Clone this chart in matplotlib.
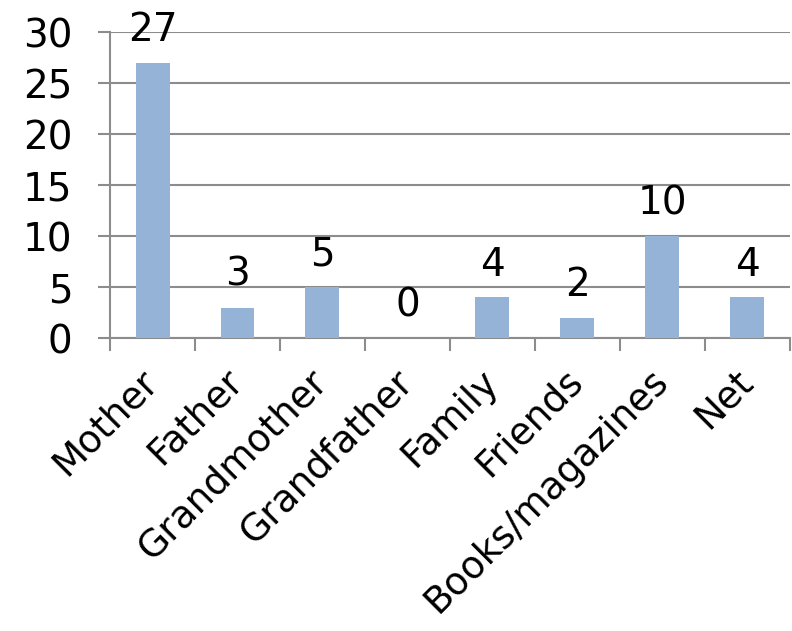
import matplotlib.pyplot as plt
import numpy as np

categories = ['Mother', 'Father', 'Grandmother', 'Grandfather', 'Family',
              'Friends', 'Books/magazines', 'Net']
counts = [27, 3, 5, 0, 4, 2, 10, 4]

plt.rcParams['font.family'] = ['DejaVu Sans']
grey = '#8c8c8c'

fig = plt.figure(figsize=(7.92, 6.31), dpi=100)
ax = fig.add_axes([0.139, 0.464, 0.858, 0.485])

x = np.arange(len(categories))
bars = ax.bar(x, counts, width=0.4, color='#95b3d7', zorder=3)
for b, v in zip(bars, counts):
    ax.annotate(str(v), (b.get_x() + b.get_width() / 2, v),
                xytext=(0, 10), textcoords='offset points',
                ha='center', va='bottom', fontsize=28, zorder=4)

ax.set_xlim(-0.5, len(categories) - 0.5)
ax.set_ylim(0, 30)
ax.set_yticks(range(0, 31, 5))
ax.tick_params(axis='y', labelsize=28, length=9, width=1.5, color=grey, pad=18)

ax.set_xticks(x)
ax.set_xticklabels(categories, rotation=45, ha='right', va='center',
                   rotation_mode='anchor', fontsize=27)
ax.tick_params(axis='x', length=0, pad=27)
ax.set_xticks(np.arange(-0.5, len(categories)), minor=True)
ax.tick_params(axis='x', which='minor', length=9, width=1.5, color=grey)

ax.yaxis.grid(True, color=grey, lw=1.5, zorder=0)
for s in ['top', 'right']:
    ax.spines[s].set_visible(False)
for s in ['left', 'bottom']:
    ax.spines[s].set_color(grey)
    ax.spines[s].set_linewidth(1.5)

plt.savefig('out.png', dpi=100)
